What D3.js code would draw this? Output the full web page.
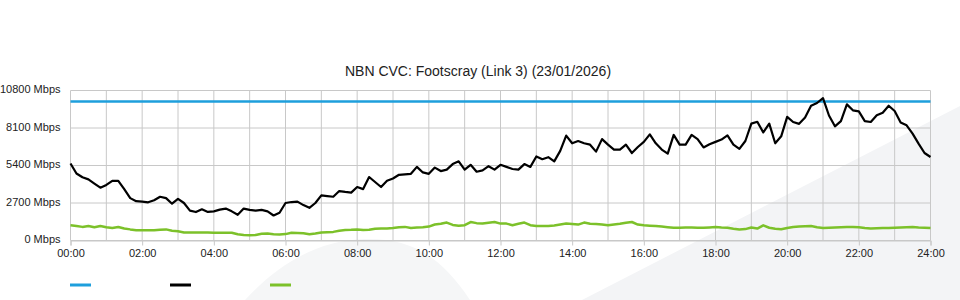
<!DOCTYPE html>
<html lang="en">
<head>
    <meta charset="UTF-8">
    <title>NBN CVC: Footscray (Link 3)</title>
    <style>
        body { margin: 0; background: #fff; }
        svg { display: block; font-family: "Liberation Sans", Arial, sans-serif; }
        .grid line { stroke: #c8c8c8; shape-rendering: auto; }
        .axis text { fill: #222; font-size: 11px; }
    </style>
    <script src="https://cdn.jsdelivr.net/npm/d3@7"></script>
</head>
<body>
<svg></svg>
<script>
    // DATA
    // samples every 10 minutes, 00:00 .. 24:00 (Mbps)
    const title = "NBN CVC: Footscray (Link 3) (23/01/2026)";
    const capacity = 10000;
    const traffic = [5540,4820,4550,4400,4100,3800,4000,4300,4300,3700,
        3050,2830,2800,2750,2900,3150,3050,2650,3000,2700,
        2150,2050,2250,2060,2100,2220,2300,2100,1850,2300,
        2200,2150,2200,2100,1800,2000,2700,2770,2800,2550,
        2350,2700,3250,3200,3150,3560,3500,3450,3850,3700,
        4570,4212,3850,4300,4460,4730,4766,4800,5300,4900,
        4800,5250,5000,5100,5500,5700,5100,5450,4950,5054,
        5350,5100,5450,5300,5150,5100,5500,5300,6050,5850,
        6000,5700,6450,7550,7000,7164,7000,6900,6400,7300,
        6900,6545,6545,6900,6300,6732,7100,7646,7000,6545,
        6257,7600,6900,6900,7600,7300,6700,6926,7100,7265,
        7574,6900,6600,7164,8417,8550,7780,8417,7000,7500,
        8900,8532,8400,8849,9700,9900,10250,9000,8222,8600,
        9800,9374,9300,8600,8532,9014,9200,9700,9324,8500,
        8294,7697,6977,6300,6012];
    const upload = [1100,1050,980,1040,950,1040,950,900,970,870,
        800,740,740,740,740,780,800,700,660,580,
        570,570,570,570,560,560,560,560,450,400,
        380,400,480,500,450,430,460,560,540,520,
        450,500,570,600,620,700,750,770,800,760,
        770,840,860,860,900,950,980,900,930,960,
        1000,1150,1200,1290,1120,1060,1100,1330,1250,1220,
        1280,1330,1217,1217,1100,1200,1289,1100,1050,1044,
        1044,1080,1150,1217,1180,1145,1289,1200,1180,1150,
        1094,1150,1200,1280,1332,1150,1094,1070,1044,1000,
        960,920,920,929,929,920,910,940,972,940,
        920,850,790,820,940,860,1090,920,850,806,
        900,972,1000,1030,1044,960,900,920,940,960,
        972,972,950,900,860,880,900,900,920,940,
        960,972,940,920,900];
    const yTicks = [0, 2700, 5400, 8100, 10800];
    const xLabels = ["00:00","02:00","04:00","06:00","08:00","10:00","12:00",
                     "14:00","16:00","18:00","20:00","22:00","24:00"];
    const seriesColors = ["#1e9fdc", "#000000", "#7cc12a"];

    // CHART dimensions
    const dim = {width: 960, height: 300};
    const plot = {left: 70.5, right: 930.5, top: 90.5, bottom: 240.5};

    const svg = d3.select("svg").attr("width", dim.width).attr("height", dim.height);

    // faint background watermark
    svg.append("path")
        .attr("d", "M582,300 L960,106 L960,300 Z")
        .attr("fill", "#f3f4f6");
    svg.append("path")
        .attr("d", "M245,300 C280,262 320,240 365,239 C410,238 440,255 470,300 Z")
        .attr("fill", "#f5f6f7");

    // SCALES (x in minutes)
    const x = d3.scaleLinear().domain([0, 1440]).range([plot.left, plot.right]);
    const y = d3.scaleLinear().domain([0, 10800]).range([plot.bottom, plot.top]);

    // GRID
    const grid = svg.append("g").attr("class", "grid");
    grid.selectAll(".v").data(d3.range(0, 25))
        .join("line")
        .attr("x1", d => x(d * 60)).attr("x2", d => x(d * 60))
        .attr("y1", plot.top).attr("y2", plot.bottom);
    grid.selectAll(".h").data(yTicks)
        .join("line")
        .attr("x1", plot.left).attr("x2", plot.right)
        .attr("y1", d => y(d)).attr("y2", d => y(d));

    // AXES
    const xAxis = d3.axisBottom(x)
        .tickValues(xLabels.map((d, i) => i * 120))
        .tickFormat((d, i) => xLabels[i])
        .tickSize(5).tickPadding(4);
    svg.append("g").attr("class", "axis")
        .attr("transform", `translate(0,${plot.bottom})`)
        .call(xAxis)
        .call(g => g.select(".domain").attr("stroke", "#c8c8c8"))
        .call(g => g.selectAll(".tick line").attr("stroke", "#c8c8c8"));

    const yAxis = d3.axisLeft(y)
        .tickValues(yTicks)
        .tickFormat(d => d + " Mbps")
        .tickSize(0).tickPadding(10);
    svg.append("g").attr("class", "axis")
        .attr("transform", `translate(${plot.left},0)`)
        .call(yAxis)
        .call(g => g.select(".domain").remove())
        .call(g => g.selectAll(".tick text").attr("dy", "0.2em"));

    // LINES
    const line = d3.line()
        .x((d, i) => x(i * 10))
        .y(d => y(d));

    svg.append("path")
        .datum([capacity, capacity])
        .attr("d", d3.line().x((d, i) => x(i * 1440)).y(d => y(d)))
        .attr("fill", "none")
        .attr("stroke", seriesColors[0])
        .attr("stroke-width", 2.5);

    svg.append("path")
        .datum(upload)
        .attr("d", line)
        .attr("fill", "none")
        .attr("stroke", seriesColors[2])
        .attr("stroke-width", 2.5)
        .attr("stroke-linejoin", "round");

    svg.append("path")
        .datum(traffic)
        .attr("d", line)
        .attr("fill", "none")
        .attr("stroke", seriesColors[1])
        .attr("stroke-width", 2.2)
        .attr("stroke-linejoin", "round");

    // TITLE
    svg.append("text")
        .attr("x", 478).attr("y", 76)
        .attr("text-anchor", "middle")
        .attr("font-size", 14)
        .attr("fill", "#222")
        .text(title);

    // LEGEND (swatches only)
    svg.append("g").selectAll("line")
        .data(seriesColors)
        .join("line")
        .attr("x1", (d, i) => 70 + i * 100)
        .attr("x2", (d, i) => 91 + i * 100)
        .attr("y1", 285).attr("y2", 285)
        .attr("stroke", d => d)
        .attr("stroke-width", 3);
</script>
</body>
</html>
